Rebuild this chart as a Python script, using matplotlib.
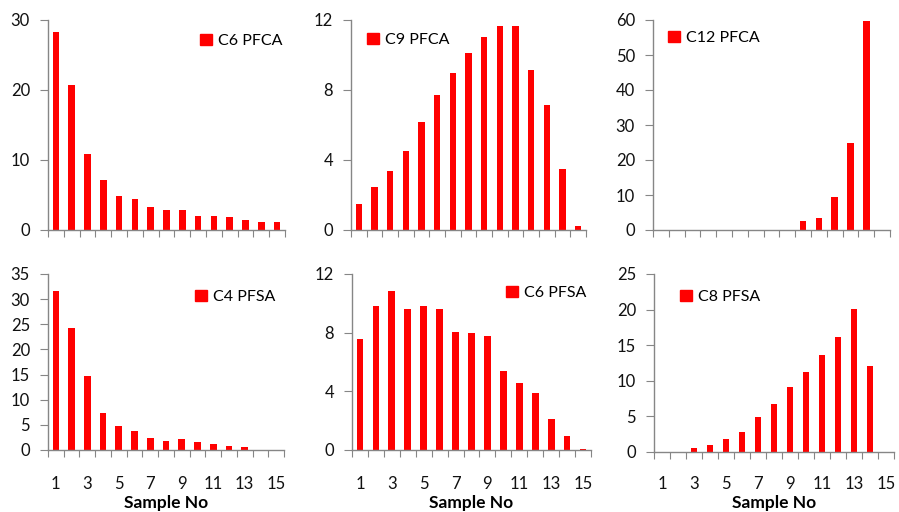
import numpy as np
import matplotlib
matplotlib.use("Agg")
import matplotlib.pyplot as plt
from matplotlib.patches import Patch

plt.rcParams['font.family'] = ['Lato', 'DejaVu Sans']

samples = list(range(1, 16))
tick_labels = ["1", "3", "5", "7", "9", "11", "13", "15"]

c6_pfca = [28.3, 20.7, 10.9, 7.2, 4.9, 4.4, 3.3, 2.8, 2.8, 2.0, 2.0, 1.9, 1.5, 1.1, 1.1]
c9_pfca = [1.46, 2.45, 3.4, 4.54, 6.19, 7.69, 9.0, 10.14, 11.01, 11.66, 11.66, 9.15, 7.12, 3.46, 0.23]
c12_pfca = [0, 0, 0, 0, 0, 0, 0, 0, 0, 2.67, 3.33, 9.5, 24.95, 59.6, 0]
c4_pfsa = [31.6, 24.3, 14.7, 7.37, 4.85, 3.85, 2.3, 1.8, 2.1, 1.6, 1.1, 0.8, 0.6, 0, 0]
c6_pfsa = [7.56, 9.79, 10.84, 9.61, 9.79, 9.61, 8.06, 7.97, 7.79, 5.38, 4.6, 3.92, 2.1, 0.98, 0.05]
c8_pfsa = [0, 0, 0.62, 1.04, 1.89, 2.79, 4.97, 6.72, 9.09, 11.27, 13.59, 16.1, 20.03, 12.12, 0]

W, H = 899, 512
RED = "#ff0000"
GREY = "#868686"

# name, values, y max, y step, axes box in px (x0, x1, top, bottom), legend anchor in px, bottom row
panels = [
    ("C6 PFCA", c6_pfca, 30, 10, (48, 285, 20, 230), (200, 41), False),
    ("C9 PFCA", c9_pfca, 12, 4, (351, 586, 20, 230), (367, 40), False),
    ("C12 PFCA", c12_pfca, 60, 10, (653, 890, 20, 230), (668, 38), False),
    ("C4 PFSA", c4_pfsa, 35, 5, (48, 284, 274, 450), (195, 297), True),
    ("C6 PFSA", c6_pfsa, 12, 4, (352, 591, 274, 450), (506, 293), True),
    ("C8 PFSA", c8_pfsa, 25, 5, (654, 894, 274, 452), (680, 297), True),
]

fig = plt.figure(figsize=(W / 100, H / 100), dpi=100)

for name, vals, ymax, ystep, (x0, x1, top, bot), (lx, ly), bottom_row in panels:
    ax = fig.add_axes([x0 / W, 1 - bot / H, (x1 - x0) / W, (bot - top) / H])
    ax.bar(samples, vals, width=0.42, color=RED)
    ax.set_xlim(0.5, 15.5)
    ax.set_ylim(0, ymax)
    ax.set_yticks(np.arange(0, ymax + 1, ystep))
    for s in ("top", "right"):
        ax.spines[s].set_visible(False)
    for s in ("left", "bottom"):
        ax.spines[s].set_color(GREY)
        ax.spines[s].set_linewidth(1.0)
    ax.tick_params(axis="y", direction="out", length=6, color=GREY, pad=7,
                   labelsize=12, labelcolor="#111111")
    # category boundaries as major ticks, labels at centres as minor ticks
    ax.set_xticks(np.arange(0.5, 16, 1))
    ax.set_xticklabels([])
    ax.tick_params(axis="x", which="major", direction="out", length=5, color=GREY)
    if bottom_row:
        ax.set_xticks(range(1, 16, 2), minor=True)
        ax.set_xticklabels(tick_labels, minor=True)
        ax.tick_params(axis="x", which="minor", length=0, pad=(476 - bot) * 0.72,
                       labelsize=12, labelcolor="#111111")
        fig.text((x0 + x1) / 2 / W, 1 - 503 / H, "Sample No", fontsize=12.5,
                 fontweight="bold", ha="center", va="center")
    ax.legend(handles=[Patch(color=RED, label=name)], loc="center left",
              bbox_to_anchor=(lx / W, 1 - ly / H), bbox_transform=fig.transFigure,
              frameon=False, fontsize=11.5, handlelength=0.75, handleheight=0.75,
              handletextpad=0.4, borderpad=0, borderaxespad=0)

fig.savefig("out.png", dpi=100)
